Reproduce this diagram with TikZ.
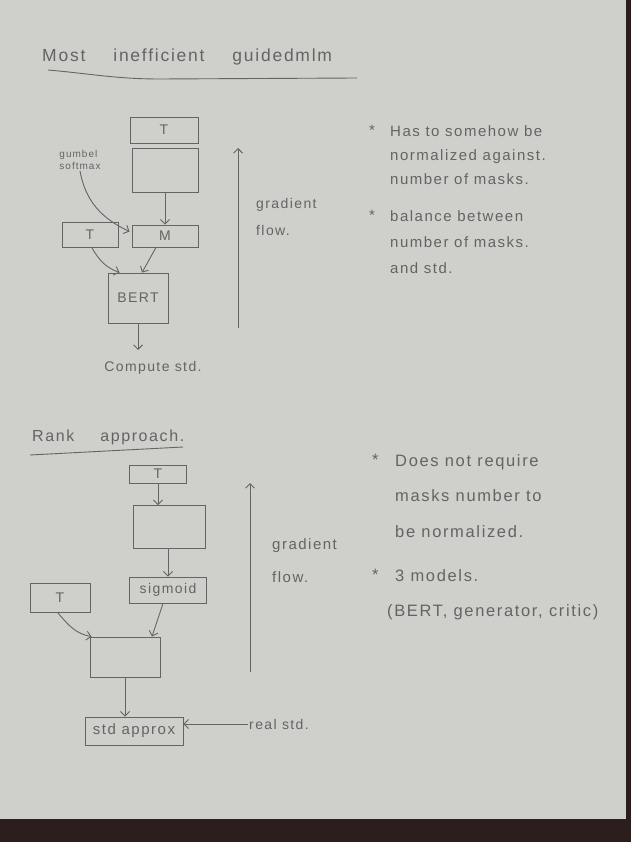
\documentclass[tikz,border=0pt]{standalone}
\usepackage{fontspec}
\setmainfont[LetterSpace=10]{Liberation Sans}
\usetikzlibrary{arrows.meta}
\definecolor{paper}{RGB}{207,207,204}
\definecolor{pencil}{RGB}{100,100,100}
\definecolor{backdrop}{RGB}{45,30,30}
\begin{document}
\begin{tikzpicture}[x=1pt,y=-1pt,
  box/.style={draw=pencil, line width=0.9pt, inner sep=0pt, text=pencil, font=\fontsize{14}{16}\selectfont},
  note/.style={text=pencil, anchor=north west, align=left, inner sep=0pt},
  lbl/.style={text=pencil, inner sep=1pt},
  title/.style={text=pencil, anchor=west, inner sep=0pt, font=\fontsize{17.5}{19}\selectfont},
  arr/.style={draw=pencil, line width=0.9pt, -{Straight Barb[length=4.5pt]}},
  pline/.style={draw=pencil, line width=0.9pt}
]
\fill[backdrop] (0,0) rectangle (631,842);
\fill[paper] (0,0) rectangle (626,819);
\useasboundingbox (0,0) rectangle (631,842);

% ---------- Section 1 ----------
\node[title] (title1) at (42,57) {Most\hspace{28pt}inefficient\hspace{28pt}guidedmlm};
\coordinate (u1a) at (48,70);
\coordinate (u1m) at (160,79);
\coordinate (u1b) at (357,78);
\draw[pline] (u1a) to[out=-5,in=180] (u1m) -- (u1b);

\node[box, minimum width=68pt, minimum height=26pt] (t1) at (164,130) {T};
\node[box, minimum width=66pt, minimum height=44pt] (e1) at (165,170) {};
\node[box, minimum width=56pt, minimum height=25pt] (t2) at (90,235) {T};
\node[box, minimum width=66pt, minimum height=22pt] (m) at (165,236) {M};
\node[box, minimum width=60pt, minimum height=50pt] (bert) at (138,298) {BERT};
\node[lbl, font=\fontsize{14}{16}\selectfont] (comp) at (153,368) {Compute std.};
\coordinate (c1) at (138,350);
\node[lbl, align=left, font=\fontsize{10}{12}\selectfont] (gum) at (80,160) {gumbel\\softmax};

\draw[arr] (e1.south) -- (m.north);
\draw[arr] (gum.south) to[out=-80,in=155] ([xshift=-2pt,yshift=-7pt]m.north west);
\draw[arr] ([xshift=2pt]t2.south) to[out=-60,in=160] ([xshift=12pt]bert.north west);
\draw[arr] ([xshift=-9pt]m.south) -- ([xshift=4pt]bert.north);
\draw[arr] (bert.south) -- (c1);

\coordinate (g1b) at (238,328);
\coordinate (g1t) at (238,148);
\draw[arr] (g1b) -- (g1t);
\node[note, font=\fontsize{14}{27}\selectfont] (gf1) at (256,198) {gradient\\flow.};

\node[note, font=\fontsize{15}{25}\selectfont] (s1) at (369,125) {*};
\node[note, font=\fontsize{15}{24}\selectfont] (n1) at (390,125) {Has to somehow be\\normalized against.\\number of masks.};
\node[note, font=\fontsize{15}{26}\selectfont] (s2) at (369,210) {*};
\node[note, font=\fontsize{15}{26}\selectfont] (n2) at (390,210) {balance between\\number of masks.\\and std.};

% ---------- Section 2 ----------
\node[title, font=\fontsize{16}{18}\selectfont] (title2) at (32,437) {Rank\hspace{26pt}approach.};
\coordinate (u2a) at (30,455);
\coordinate (u2b) at (183,447);
\draw[pline] (u2a) -- (u2b);

\node[box, minimum width=57pt, minimum height=18pt] (t3) at (158,474) {T};
\node[box, minimum width=72pt, minimum height=43pt] (e2) at (169,527) {};
\node[box, minimum width=77pt, minimum height=26pt] (sig) at (168,590) {sigmoid};
\node[box, minimum width=60pt, minimum height=29pt] (t4) at (60,598) {T};
\node[box, minimum width=70pt, minimum height=40pt] (e3) at (125,657) {};
\node[box, minimum width=98pt, minimum height=28pt, font=\fontsize{15}{17}\selectfont] (std) at (134,731) {std approx};
\node[lbl, anchor=west, font=\fontsize{14}{16}\selectfont] (real) at (248,724) {real std.};

\draw[arr] (t3.south) -- (e2.north -| t3.south);
\draw[arr] (e2.south -| sig.north) -- (sig.north);
\draw[arr] ([xshift=-2pt]t4.south) to[out=-50,in=170] ([xshift=2pt]e3.north west);
\draw[arr] ([xshift=-5pt]sig.south) -- ([xshift=27pt]e3.north);
\draw[arr] (e3.south) -- (std.north -| e3.south);
\draw[arr] (real.west) -- (real.west -| std.east);

\coordinate (g2b) at (250,672);
\coordinate (g2t) at (250,483);
\draw[arr] (g2b) -- (g2t);
\node[note, font=\fontsize{15}{33}\selectfont] (gf2) at (272,538) {gradient\\flow.};

\node[note, font=\fontsize{16.5}{35.5}\selectfont] (s3) at (372,454) {*};
\node[note, font=\fontsize{16.5}{35.5}\selectfont] (n3) at (395,454) {Does not require\\masks number to\\be normalized.};
\node[note, font=\fontsize{16.5}{35}\selectfont] (s4) at (372,569) {*};
\node[note, font=\fontsize{16.5}{35}\selectfont] (n4) at (395,569) {3 models.\\[0pt]\hspace{-8pt}(BERT, generator, critic)};
\end{tikzpicture}
\end{document}
